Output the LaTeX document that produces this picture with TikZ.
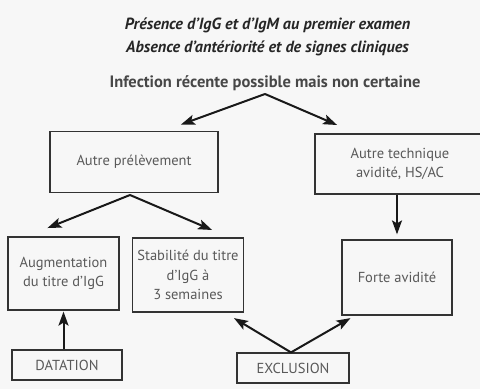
\documentclass[tikz,border=0pt]{standalone}
\usepackage{fontspec}
\setmainfont{PT Sans}
\usetikzlibrary{arrows.meta}

\tikzset{
  boite/.style={draw=black!80, line width=1.2pt, fill=black!3, text=black!65,
    align=center, inner sep=2pt, font=\fontsize{14.5}{19.5}\selectfont},
  fleche/.style={-{Stealth[length=14pt,width=10pt,inset=3pt]}, line width=2pt, black!90, shorten >=1pt},
}

\begin{document}
\begin{tikzpicture}[x=1pt,y=-1pt]
% Page:
\useasboundingbox[fill=black!3] (0,0) rectangle (480,389);
% Titres:
\node (titre1) [font=\fontsize{16.2}{18}\selectfont\bfseries\itshape, text=black!85] at (267.5,25) {Présence d'IgG et d'IgM au premier examen};
\node (titre2) [font=\fontsize{16.2}{18}\selectfont\bfseries\itshape, text=black!85] at (267.5,48) {Absence d'antériorité et de signes cliniques};
\node (infection) [font=\fontsize{16.5}{18}\selectfont\bfseries, text=black!72] at (265,83) {Infection récente possible mais non certaine};
\coordinate (sommet) at (265,94);
% Boites:
\node (prelev) [boite, minimum width=168pt, minimum height=61pt] at (134,162) {Autre prélèvement};
\node (technique) [boite, minimum width=170pt, minimum height=60pt] at (400,164) {Autre technique\\avidité, HS/AC};
\node (forte) [boite, minimum width=110pt, minimum height=75pt] at (397,277.5) {Forte avidité};
\node (augment) [boite, minimum width=111pt, minimum height=73pt] at (63.5,273.5) {Augmentation\\du titre d'IgG};
\node (stabilite) [boite, minimum width=111pt, minimum height=74pt] at (188,275) {Stabilité du titre\\d'IgG à\\3 semaines};
\node (datation) [boite, minimum width=110pt, minimum height=30pt] at (67,365) {DATATION};
\node (exclusion) [boite, minimum width=112pt, minimum height=30pt] at (293,368) {EXCLUSION};
\coordinate (sommet2) at (130,195);
% Fleches:
\draw[fleche] (sommet) -- ([xshift=46pt,yshift=6pt]prelev.north);
\draw[fleche] (sommet) -- ([xshift=-62pt,yshift=8pt]technique.north);
\draw[fleche] (sommet2) -- ([xshift=-17pt,yshift=8pt]augment.north);
\draw[fleche] (sommet2) -- ([xshift=25pt,yshift=7pt]stabilite.north);
\draw[fleche] (technique.south -| forte.north) -- ([yshift=4pt]forte.north);
\draw[fleche] (datation.north -| augment.south) -- (augment.south);
\draw[fleche] ([xshift=-2pt]exclusion.north) -- ([xshift=-11pt,yshift=-5pt]stabilite.south east);
\draw[fleche] ([xshift=-2pt]exclusion.north) -- ([xshift=10pt,yshift=-2pt]forte.south west);
\end{tikzpicture}
\end{document}
